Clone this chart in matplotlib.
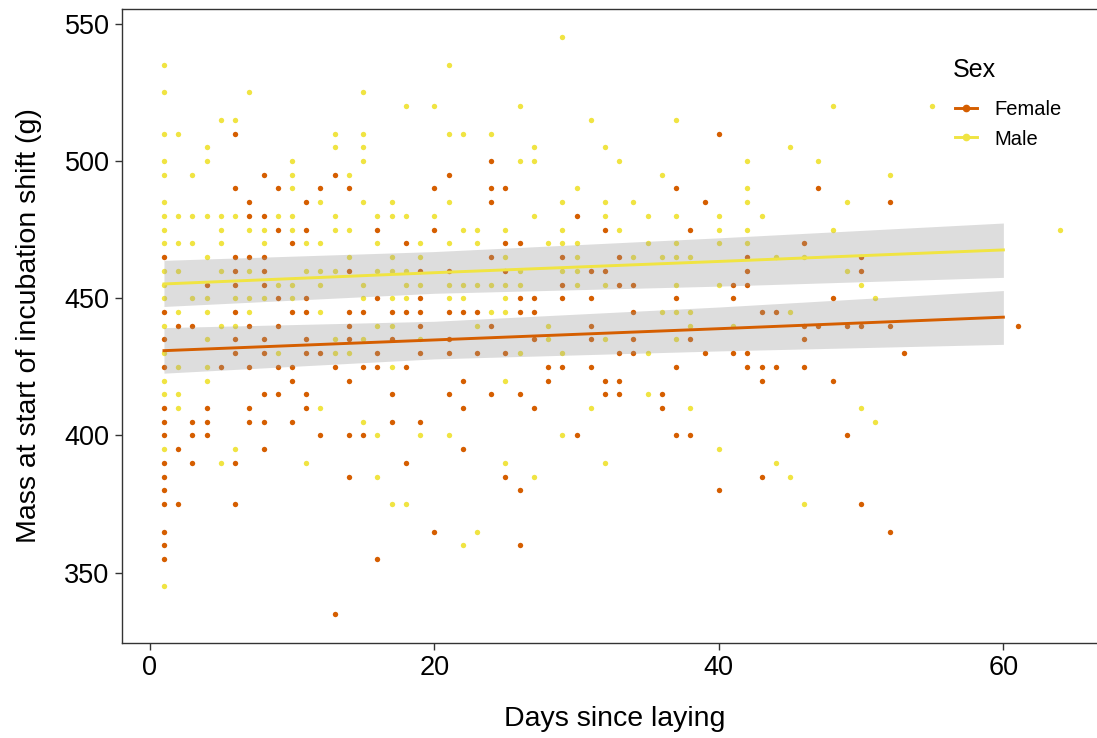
import numpy as np
import matplotlib
matplotlib.use("Agg")
import matplotlib.pyplot as plt
from matplotlib.lines import Line2D

plt.rcParams['font.family'] = ['Liberation Sans', 'DejaVu Sans']

# Female points: days and the masses seen at each day
female_days = [1, 2, 3, 4, 5, 6, 7, 8, 9, 10, 11, 12, 13, 14, 15, 16, 17, 18, 19, 20,
               21, 22, 23, 24, 25, 26, 27, 28, 29, 30, 31, 32, 33, 34, 36, 37, 38, 39, 40,
               41, 42, 43, 44, 46, 47, 48, 49, 50, 52, 53, 61]
female_masses = [
    [465, 445, 435, 425, 410, 405, 400, 390, 385, 380, 375, 365, 360, 355],
    [440, 395, 375],
    [440, 405, 400, 390],
    [455, 410, 405, 400],
    [425],
    [510, 490, 465, 460, 455, 445, 435, 430, 390, 375],
    [485, 480, 465, 440, 425, 410, 405],
    [495, 480, 465, 460, 455, 435, 430, 415, 405, 395],
    [490, 475, 450, 440, 425, 415],
    [470, 445, 425, 420, 405],
    [485, 475, 450, 445, 435, 430, 415, 410],
    [490, 430, 400],
    [495, 425, 335],
    [490, 460, 445, 440, 435, 420, 400, 385],
    [445, 425, 400],
    [475, 450, 430, 425, 355],
    [445, 435, 415, 405],
    [470, 445, 425, 390],
    [460, 450, 445, 440, 430, 405],
    [490, 475, 365],
    [495, 460, 445, 435, 430, 415],
    [445, 420, 410, 395],
    [445, 430],
    [500, 490, 485, 465, 440, 415],
    [490, 470, 460, 430, 385],
    [470, 450, 445, 415, 380, 360],
    [450, 445, 435, 410],
    [425, 420],
    [465, 455, 450, 425],
    [480, 400],
    [460, 450, 440, 435, 425],
    [475, 460, 420, 415],
    [465, 455, 430, 420, 415],
    [455, 445, 435, 430],
    [415, 410],
    [490, 450, 425, 400],
    [475, 435, 400],
    [485, 430],
    [510, 380],
    [455, 450, 430],
    [465, 460, 455, 430, 425],
    [445, 425, 420, 385],
    [445, 425],
    [470, 440, 435, 425],
    [490, 440],
    [450, 420],
    [440, 400],
    [465, 460, 440, 375],
    [485, 440, 365],
    [430],
    [440],
]

# Male points
male_days = [1, 2, 3, 4, 5, 6, 7, 8, 9, 10, 11, 12, 13, 14, 15, 16, 17, 18, 19, 20,
             21, 22, 23, 24, 25, 26, 27, 28, 29, 30, 31, 32, 33, 34, 35, 36, 37, 38, 40,
             41, 42, 43, 44, 45, 46, 47, 48, 49, 50, 51, 52, 55, 64]
male_masses = [
    [535, 525, 510, 500, 495, 485, 480, 475, 470, 460, 455, 450, 440, 430, 420, 415, 395, 345],
    [510, 480, 470, 460, 445, 425, 415, 410],
    [495, 480, 470, 450],
    [505, 500, 480, 465, 450, 445, 435, 425, 420],
    [515, 480, 475, 470, 460, 440, 390],
    [515, 480, 450, 440, 395],
    [525, 475, 460, 450, 445],
    [475, 470, 450],
    [480, 455, 430],
    [500, 495, 490, 480, 475, 455, 450],
    [470, 460, 390],
    [485, 470, 460, 455, 445, 410],
    [510, 505, 480, 475, 460, 435, 430],
    [495, 475, 465, 430],
    [525, 510, 505, 500, 485, 455, 450, 435, 405],
    [480, 470, 460, 440, 400, 385],
    [485, 480, 465, 460, 450, 440, 425, 375],
    [520, 480, 460, 455, 450, 375],
    [470, 465, 455, 435, 400],
    [520, 480],
    [535, 510, 485, 470, 455, 450, 400],
    [510, 475, 455, 450, 360],
    [475, 470, 455, 440, 365],
    [510, 455, 445],
    [475, 465, 455, 450, 445, 420, 390],
    [520, 500, 460, 455, 430],
    [505, 500, 480, 385],
    [470, 440, 435],
    [545, 485, 475, 470, 460, 430, 400],
    [490, 470, 465, 460, 455],
    [515, 410],
    [505, 485, 480, 455, 435, 390],
    [500, 475],
    [485, 465],
    [480, 470, 430, 415],
    [495, 465, 445],
    [515, 480, 470, 465, 455, 445, 435],
    [465, 445, 440, 410],
    [480, 475, 470, 455, 395],
    [440],
    [500, 490, 485, 475, 470],
    [480],
    [465, 390],
    [505, 445, 385],
    [465, 375],
    [500],
    [520, 475],
    [485, 460],
    [455, 410],
    [450, 405],
    [495],
    [520],
    [475],
]

# fitted lines and 95% bands
fit_days = [1, 20, 40, 60]
female_fit = [430.9, 434.8, 438.9, 443.1]
female_lo = [422.7, 427.9, 430.8, 433.2]
female_hi = [439.3, 441.6, 446.8, 452.8]
male_fit = [455.2, 459.3, 463.4, 467.6]
male_lo = [447.0, 451.8, 454.4, 457.6]
male_hi = [463.8, 467.0, 472.0, 477.4]

female_col = '#D55E00'
male_col = '#F0E442'

def flatten(days, masses):
    x = np.repeat(days, [len(m) for m in masses])
    y = np.concatenate(masses)
    return x, y

fx, fy = flatten(female_days, female_masses)
mx, my = flatten(male_days, male_masses)

fig = plt.figure(figsize=(10.97, 7.38), dpi=100)
ax = fig.add_axes([0.1112, 0.1291, 0.8988, 0.8592])

ax.scatter(fx, fy, s=15, color=female_col, linewidths=0, zorder=2)
ax.scatter(mx, my, s=15, color=male_col, linewidths=0, zorder=2)

# ribbons on top of the points, like geom_smooth
ax.fill_between(fit_days, female_lo, female_hi, color='#999999', alpha=0.33, linewidth=0, zorder=3)
ax.fill_between(fit_days, male_lo, male_hi, color='#999999', alpha=0.33, linewidth=0, zorder=3)
ax.plot(fit_days, female_fit, color=female_col, lw=2.1, zorder=4)
ax.plot(fit_days, male_fit, color=male_col, lw=2.1, zorder=4)

ax.set_xlim(-1.95, 67.35)
ax.set_ylim(324.5, 555.5)
ax.set_xticks([0, 20, 40, 60])
ax.set_yticks([350, 400, 450, 500, 550])
ax.tick_params(axis='both', labelsize=19.5, length=5, width=1, color='#333333', labelcolor='black', pad=4)
for sp in ax.spines.values():
    sp.set_color('#333333')
    sp.set_linewidth(1)

ax.set_xlabel('Days since laying', fontsize=20.5, labelpad=18)
ax.set_ylabel('Mass at start of incubation shift (g)', fontsize=20.5, labelpad=16)

# legend: title as separate text, entries below it
fig.text(953 / 1097, 1 - 70 / 738, 'Sex', fontsize=18, ha='left', va='center')
handles = [Line2D([0], [0], color=female_col, lw=2.1, marker='o', markersize=4.5),
           Line2D([0], [0], color=male_col, lw=2.1, marker='o', markersize=4.5)]
leg = fig.legend(handles, ['Female', 'Male'], loc='center left',
                 bbox_to_anchor=(955 / 1097, 1 - 124.5 / 738), frameon=False,
                 fontsize=14.5, handlelength=1.1, handletextpad=0.85,
                 labelspacing=0.5, borderpad=0, borderaxespad=0)

fig.savefig('out.png', dpi=100)
